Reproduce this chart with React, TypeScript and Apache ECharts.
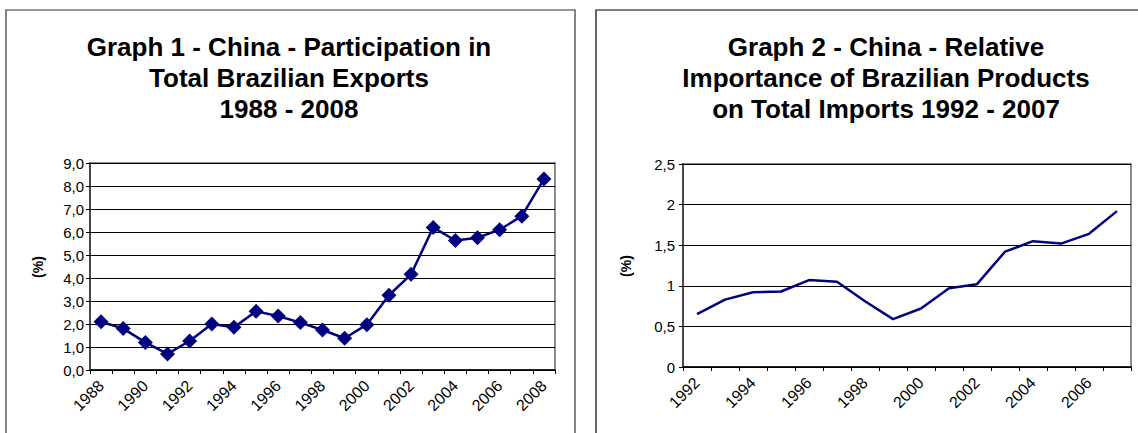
import React, { useEffect, useRef } from "react";
import * as echarts from "echarts";

const years1 = ["1988","1989","1990","1991","1992","1993","1994","1995","1996","1997","1998","1999","2000","2001","2002","2003","2004","2005","2006","2007","2008"];
const share1 = [2.1,1.8,1.2,0.7,1.26,2.0,1.86,2.55,2.35,2.06,1.74,1.38,1.97,3.25,4.16,6.2,5.63,5.75,6.1,6.69,8.3];

const years2 = ["1992","1993","1994","1995","1996","1997","1998","1999","2000","2001","2002","2003","2004","2005","2006","2007"];
const share2 = [0.65,0.83,0.92,0.93,1.07,1.05,0.81,0.59,0.72,0.97,1.02,1.42,1.55,1.52,1.64,1.92];

const title1 = "Graph 1 - China - Participation in\nTotal Brazilian Exports\n1988 - 2008";
const title2 = "Graph 2 - China - Relative\nImportance of Brazilian Products\non Total Imports 1992 - 2007";
const yName = "(%)";

const FONT = "'Liberation Sans', Arial, sans-serif";
const NAVY = "#000080";

export default function App() {
  const ref = useRef<HTMLDivElement>(null);
  useEffect(() => {
    if (!ref.current) return;
    const chart = echarts.init(ref.current, undefined, { renderer: "svg" });
    const xAxisCommon = (data: string[]) => ({
      type: "category" as const,
      data,
      boundaryGap: true,
      axisLine: { lineStyle: { color: "#000", width: 1.5 } },
      axisTick: { show: true, interval: 0, length: 4, lineStyle: { color: "#000" } },
      axisLabel: { interval: 1, rotate: 45, color: "#000", fontSize: 16, fontFamily: FONT, margin: 13 },
      splitLine: { show: false },
    });
    const yAxisCommon = {
      type: "value" as const,
      axisLine: { show: true, lineStyle: { color: "#333", width: 1.5 } },
      axisTick: { show: true, length: 4, lineStyle: { color: "#000" } },
      splitLine: { show: true, lineStyle: { color: "#000", width: 1 } },
    };
    chart.setOption({
      animation: false,
      backgroundColor: "#fff",
      grid: [
        { left: 90, top: 163, width: 465, height: 207, show: true, borderColor: "#8c8c8c", borderWidth: 2, backgroundColor: "#fff" },
        { left: 683, top: 164, width: 448, height: 203, show: true, borderColor: "#8c8c8c", borderWidth: 2, backgroundColor: "#fff" },
      ],
      xAxis: [
        { ...xAxisCommon(years1), gridIndex: 0 },
        { ...xAxisCommon(years2), gridIndex: 1 },
      ],
      yAxis: [
        {
          ...yAxisCommon,
          gridIndex: 0,
          min: 0,
          max: 9,
          interval: 1,
          axisLabel: { color: "#000", fontSize: 15, fontFamily: FONT, margin: 6, formatter: (v: number) => v.toFixed(1).replace(".", ",") },
        },
        {
          ...yAxisCommon,
          gridIndex: 1,
          min: 0,
          max: 2.5,
          interval: 0.5,
          axisLabel: { color: "#000", fontSize: 15, fontFamily: FONT, margin: 8, formatter: (v: number) => String(v).replace(".", ",") },
        },
      ],
      series: [
        {
          type: "line",
          xAxisIndex: 0,
          yAxisIndex: 0,
          data: share1,
          symbol: "diamond",
          symbolSize: 15,
          showAllSymbol: true,
          itemStyle: { color: NAVY },
          lineStyle: { color: NAVY, width: 2.5 },
        },
        {
          type: "line",
          xAxisIndex: 1,
          yAxisIndex: 1,
          data: share2,
          showSymbol: false,
          symbol: "none",
          lineStyle: { color: NAVY, width: 2.5 },
        },
      ],
      graphic: [
        { type: "rect", shape: { x: 6, y: 10, width: 569, height: 440 }, style: { fill: "none", stroke: "#333", lineWidth: 1.2 }, z: -1 },
        { type: "rect", shape: { x: 596, y: 10, width: 600, height: 440 }, style: { fill: "none", stroke: "#000", lineWidth: 1.2 }, z: -1 },
        { type: "text", x: 289, y: 31, style: { text: title1, fontSize: 26, fontWeight: "bold", fontFamily: FONT, align: "center", verticalAlign: "top", lineHeight: 31, fill: "#000" } },
        { type: "text", x: 886, y: 31, style: { text: title2, fontSize: 26, fontWeight: "bold", fontFamily: FONT, align: "center", verticalAlign: "top", lineHeight: 31, fill: "#000" } },
        { type: "text", x: 38, y: 267, rotation: Math.PI / 2, style: { text: yName, fontSize: 14, fontWeight: "bold", fontFamily: FONT, align: "center", verticalAlign: "middle", fill: "#000" } },
        { type: "text", x: 626, y: 266, rotation: Math.PI / 2, style: { text: yName, fontSize: 14, fontWeight: "bold", fontFamily: FONT, align: "center", verticalAlign: "middle", fill: "#000" } },
      ],
    });
    return () => chart.dispose();
  }, []);
  return <div ref={ref} style={{ position: "absolute", left: 0, top: 0, width: 1138, height: 433 }} />;
}
